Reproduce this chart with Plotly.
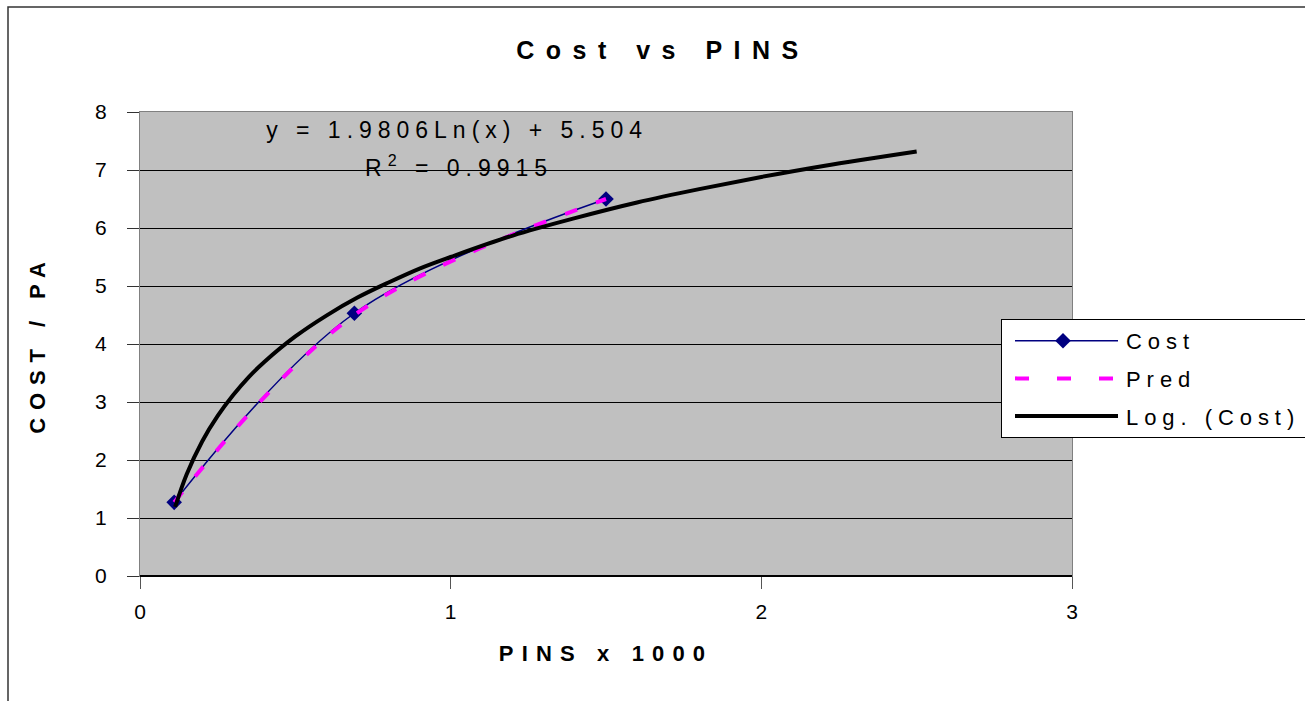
import plotly.graph_objects as go

# ---- data ----
cost_x = [0.11, 0.69, 1.50]
cost_y = [1.27, 4.53, 6.50]

pred_x = [0.11, 0.69, 1.50]
pred_y = [1.27, 4.50, 6.50]

log_x = [0.113, 0.15, 0.2, 0.25, 0.3, 0.35, 0.4, 0.5, 0.6, 0.7, 0.8, 0.9,
         1.0, 1.2, 1.4, 1.6, 1.8, 2.0, 2.2, 2.5]
log_y = [1.19, 1.75, 2.32, 2.76, 3.12, 3.43, 3.69, 4.13, 4.49, 4.80, 5.06, 5.30,
         5.50, 5.87, 6.17, 6.44, 6.67, 6.88, 7.07, 7.32]

x_ticks = [0, 1, 2, 3]
y_ticks = [0, 1, 2, 3, 4, 5, 6, 7, 8]

FONT = "Liberation Sans, Arial, sans-serif"

fig = go.Figure()
fig.add_trace(go.Scatter(
    x=cost_x, y=cost_y, name="Cost", mode="lines+markers",
    line=dict(color="#000080", width=1.5, shape="spline"),
    marker=dict(symbol="diamond", size=12, color="#000080"),
    legendgroup="a"))
fig.add_trace(go.Scatter(
    x=pred_x, y=pred_y, name="Pred", mode="lines",
    line=dict(color="#FF00FF", width=4, dash="13px,20px", shape="spline"),
    legendgroup="b"))
fig.add_trace(go.Scatter(
    x=log_x, y=log_y, name="Log. (Cost)", mode="lines",
    line=dict(color="#000000", width=4, shape="spline"),
    legendgroup="c"))

L, R, T, B = 140, 1072, 112, 576
W, H = 1305, 701

def px(xp):
    return (xp - L) / (R - L)

def py(yp):
    return (B - yp) / (B - T)

fig.update_layout(
    width=W, height=H,
    margin=dict(l=L, r=W - R, t=T, b=H - B),
    paper_bgcolor="white", plot_bgcolor="#C0C0C0",
    font=dict(family=FONT, size=21, color="black"),
    title=dict(text="<b>Cost vs PINS</b>", x=663 / W, xref="container",
               xanchor="center", y=1 - 50 / H, yref="container",
               yanchor="middle", font=dict(size=25, family=FONT)),
    showlegend=True,
    legend=dict(x=px(1001), y=py(319), xanchor="left", yanchor="top",
                bgcolor="white", bordercolor="black", borderwidth=1,
                font=dict(size=22, family=FONT), traceorder="grouped",
                tracegroupgap=6, itemwidth=114),
    xaxis=dict(range=[0, 3], tickvals=x_ticks, showgrid=False, zeroline=False,
               showline=True, linecolor="#808080", linewidth=1, mirror=True,
               ticks="outside", ticklen=12, tickcolor="#555555",
               ticklabelstandoff=5, tickfont=dict(size=21),
               title=dict(text="<b>PINS x 1000</b>", standoff=23,
                          font=dict(size=22, family=FONT))),
    yaxis=dict(range=[0, 8], tickvals=y_ticks, showgrid=True, gridcolor="black",
               gridwidth=1, zeroline=False,
               showline=True, linecolor="#808080", linewidth=1, mirror=True,
               ticks="outside", ticklen=12, tickcolor="#333333",
               ticklabelstandoff=16, tickfont=dict(size=21),
               title=dict(text="<b>COST / PA</b>", standoff=43,
                          font=dict(size=22, family=FONT))),
)

# outer chart border
fig.add_shape(type="rect", xref="paper", yref="paper",
              x0=px(8), y0=py(760), x1=px(1360), y1=py(7),
              line=dict(color="#333333", width=1.5), layer="below")
# bottom axis line (black)
fig.add_shape(type="line", xref="paper", yref="paper",
              x0=0, x1=1, y0=0, y1=0, line=dict(color="black", width=2))

fig.add_annotation(text="y = 1.9806Ln(x) + 5.504", xref="paper", yref="paper",
                   x=px(457), y=py(130), xanchor="center", yanchor="middle",
                   showarrow=False, font=dict(size=23, family=FONT))
fig.add_annotation(text="R<sup>2</sup> = 0.9915", xref="paper", yref="paper",
                   x=px(459), y=py(166), xanchor="center", yanchor="middle",
                   showarrow=False, font=dict(size=23, family=FONT))

post = """
function ls(sel, v){document.querySelectorAll(sel).forEach(function(t){t.style.letterSpacing=v;});}
ls('.gtitle','0.46em');
ls('.xtitle','0.37em');
ls('.ytitle','0.36em');
ls('.annotation-text','0.26em');
ls('.legendtext','0.27em');
document.querySelectorAll('.legend rect.bg').forEach(function(r){r.setAttribute('width','420');});
document.querySelectorAll('clipPath[id*="legend"] rect').forEach(function(r){r.setAttribute('width','420');});
document.querySelectorAll('.legend .legendlines path').forEach(function(p){
  p.setAttribute('d','M13,0h103');
  var da = p.style.strokeDasharray;
  if (da && da !== 'none') { p.style.strokeDasharray = '14px, 28px'; }
});
document.querySelectorAll('.legend .legendpoints path').forEach(function(p){
  p.setAttribute('transform','translate(61,0)');
});
"""
fig.write_html("out.html", post_script=post)
